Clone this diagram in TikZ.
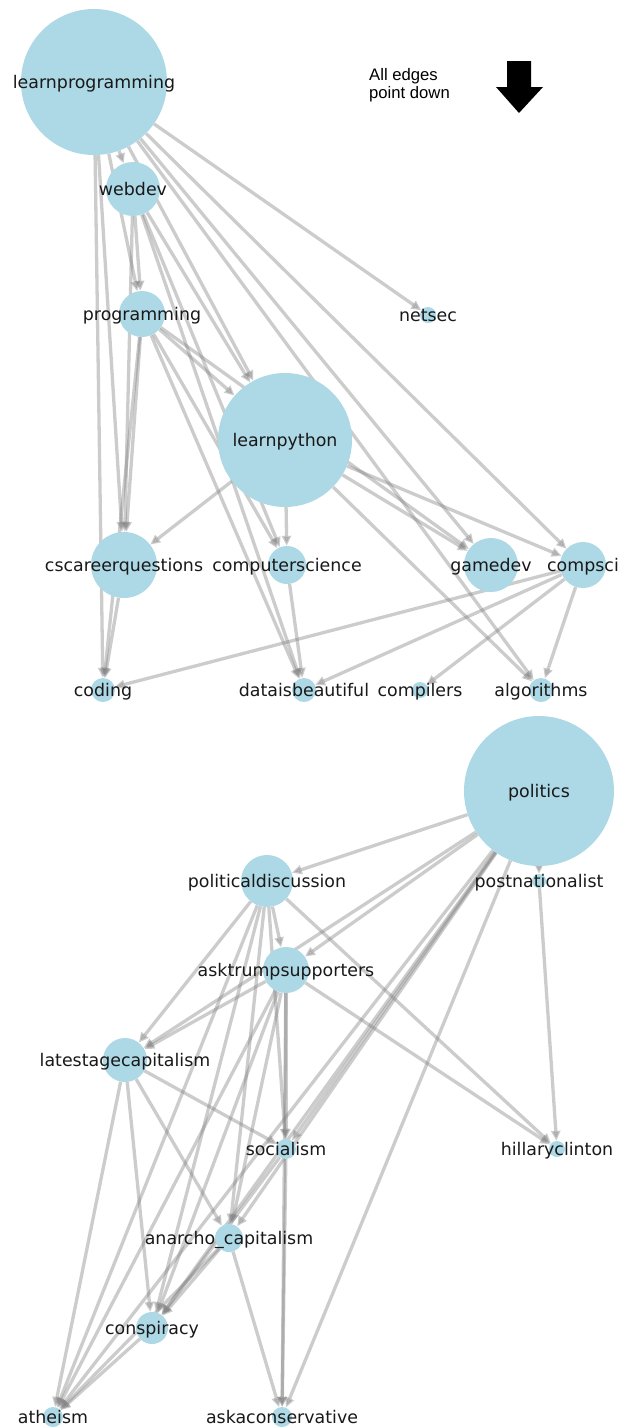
\documentclass[tikz,border=0pt]{standalone}
\usepackage{fontspec}
\setmainfont{DejaVu Sans}
\newfontfamily\legendfont{Liberation Sans}
\usetikzlibrary{arrows.meta}
\pgfdeclarelayer{edgelayer}
\pgfsetlayers{edgelayer,main}
\definecolor{nodeblue}{HTML}{ADD8E6}
\begin{document}
\begin{tikzpicture}[x=1pt,y=-1pt,
  vtx/.style={circle,fill=nodeblue,draw=none,inner sep=0pt,minimum size=#1},
  lbl/.style={font=\fontsize{17.4}{20}\selectfont,text=black!90,inner sep=0pt,text height=13.2pt,text depth=4.2pt,anchor=center,yshift=-1.5pt},
  legendtext/.style={font=\legendfont\fontsize{16.67}{18}\selectfont,text=black,inner sep=0pt,anchor=base west},
  edge/.style={draw=black!50,opacity=0.4,line width=3.3pt,-{Triangle[length=10pt,width=9pt]}}
]
\useasboundingbox (0,0) rectangle (627,1427);

% ---- top cluster nodes ----
\node[vtx=146pt] (LP) at (94,82) {};
\node[vtx=54pt]  (WD) at (133,189) {};
\node[vtx=46pt]  (PR) at (142,314) {};
\node[vtx=16pt]  (NS) at (428,315) {};
\node[vtx=134pt] (PY) at (285,440) {};
\node[vtx=66pt]  (CQ) at (124,565) {};
\node[vtx=38pt]  (CS) at (287,565) {};
\node[vtx=54pt]  (GD) at (491,565) {};
\node[vtx=46pt]  (CO) at (583,565) {};
\node[vtx=24pt]  (CD) at (103,690) {};
\node[vtx=24pt]  (DB) at (304,690) {};
\node[vtx=16pt]  (CP) at (420,690) {};
\node[vtx=24pt]  (AL) at (541,690) {};

% ---- bottom cluster nodes ----
\node[vtx=150pt] (PO) at (539,791) {};
\node[vtx=52pt]  (PD) at (267,881) {};
\node[vtx=14pt]  (PN) at (539,881) {};
\node[vtx=46pt]  (AT) at (286,970) {};
\node[vtx=44pt]  (LC) at (125,1060) {};
\node[vtx=20pt]  (SO) at (286,1149) {};
\node[vtx=16pt]  (HC) at (557,1149) {};
\node[vtx=28pt]  (AC) at (229,1238) {};
\node[vtx=32pt]  (CN) at (152,1328) {};
\node[vtx=20pt]  (AH) at (53,1417) {};
\node[vtx=20pt]  (AK) at (282,1417) {};

% ---- edges (behind nodes) ----
\begin{pgfonlayer}{edgelayer}
\fill[white] (0,0) rectangle (627,1427);
\foreach \a/\b in {LP/WD,LP/PR,LP/CQ,LP/CD,LP/NS,LP/CO,LP/GD,LP/AL,LP/PY,
  WD/PR,WD/CQ,WD/PY,WD/CS,WD/DB,
  PR/CQ,PR/CD,PR/PY,PR/CS,PR/DB,PR/GD,
  PY/CQ,PY/CS,PY/GD,PY/CO,PY/AL,
  CQ/CD,CS/DB,
  CO/CD,CO/DB,CO/CP,CO/AL,
  PO/PD,PO/AT,PO/LC,PO/PN,PO/SO,PO/AC,PO/CN,PO/AH,PO/AK,
  PN/HC,
  PD/AT,PD/LC,PD/SO,PD/AC,PD/CN,PD/AH,PD/HC,
  AT/LC,AT/SO,AT/AC,AT/CN,AT/AH,AT/AK,AT/HC,
  LC/SO,LC/AC,LC/CN,LC/AH,
  SO/AK,SO/CN,
  AC/CN,AC/AH,AC/AK,
  CN/AH}
  \draw[edge] (\a) -- (\b);
\end{pgfonlayer}

% ---- labels ----
\node[lbl] (tLP) at (LP.center) {learnprogramming};
\node[lbl] (tWD) at (WD.center) {webdev};
\node[lbl] (tPR) at (PR.center) {programming};
\node[lbl] (tNS) at (NS.center) {netsec};
\node[lbl] (tPY) at (PY.center) {learnpython};
\node[lbl] (tCQ) at (CQ.center) {cscareerquestions};
\node[lbl] (tCS) at (CS.center) {computerscience};
\node[lbl] (tGD) at (GD.center) {gamedev};
\node[lbl] (tCO) at (CO.center) {compsci};
\node[lbl] (tCD) at (CD.center) {coding};
\node[lbl] (tDB) at (DB.center) {dataisbeautiful};
\node[lbl] (tCP) at (CP.center) {compilers};
\node[lbl] (tAL) at (AL.center) {algorithms};
\node[lbl] (tPO) at (PO.center) {politics};
\node[lbl] (tPD) at (PD.center) {politicaldiscussion};
\node[lbl] (tPN) at (PN.center) {postnationalist};
\node[lbl] (tAT) at (AT.center) {asktrumpsupporters};
\node[lbl] (tLC) at (LC.center) {latestagecapitalism};
\node[lbl] (tSO) at (SO.center) {socialism};
\node[lbl] (tHC) at (HC.center) {hillaryclinton};
\node[lbl] (tAC) at (AC.center) {anarcho\_capitalism};
\node[lbl] (tCN) at (CN.center) {conspiracy};
\node[lbl] (tAH) at (AH.center) {atheism};
\node[lbl] (tAK) at (AK.center) {askaconservative};

% ---- legend ----
\node[legendtext] (leg1) at (369,80) {All edges};
\node[legendtext] (leg2) at (369,98) {point down};
\fill[black] (507,61) -- (531,61) -- (531,87) -- (543,87) -- (519,113) -- (496,87) -- (507,87) -- cycle;
\end{tikzpicture}
\end{document}
